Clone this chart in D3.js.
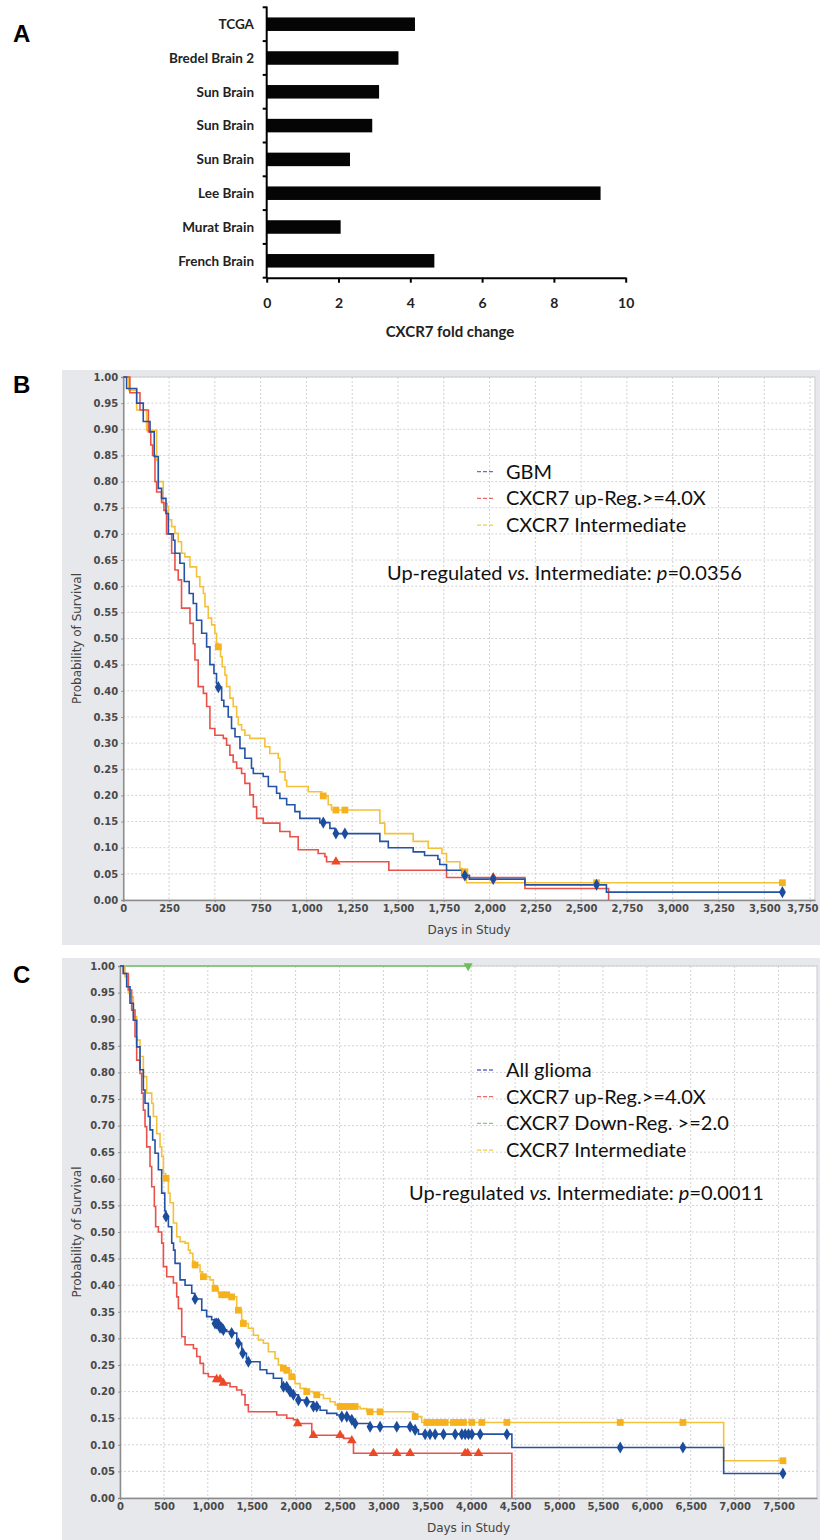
<!DOCTYPE html>
<html>
<head>
<meta charset="utf-8">
<title>CXCR7 fold change and survival</title>
<script src="https://d3js.org/d3.v7.min.js"></script>
<style>
  body { margin: 0; background: #fff; }
  svg { display: block; }
  .panel-label { font-family: "Liberation Sans", Arial, sans-serif; font-weight: bold; font-size: 24px; fill: #000; }
  .bar-label { font-family: Lato, sans-serif; font-weight: bold; font-size: 13.5px; fill: #222; }
  .bar-tick { font-family: Lato, sans-serif; font-weight: bold; font-size: 14px; fill: #222; }
  .bar-title { font-family: Lato, sans-serif; font-weight: bold; font-size: 15px; fill: #222; }
  .km-tick { font-family: "DejaVu Sans", sans-serif; font-weight: bold; font-size: 10px; fill: #4a4a4a; }
  .km-title { font-family: "DejaVu Sans", sans-serif; font-size: 12px; fill: #444; }
  .km-legend { font-family: Lato, sans-serif; font-size: 20px; fill: #111; }
</style>
</head>
<body>
<svg id="fig" width="821" height="1540"></svg>
<script>
// ---------- Panel A data ----------
const aCategories = ["TCGA", "Bredel Brain 2", "Sun Brain", "Sun Brain", "Sun Brain", "Lee Brain", "Murat Brain", "French Brain"];
const aFoldChange = [4.13, 3.67, 3.13, 2.94, 2.32, 9.30, 2.06, 4.67];
const aTicks = [0, 2, 4, 6, 8, 10];

// ---------- Panel B data (GBM) ----------
const bDayTicks = [0, 250, 500, 750, 1000, 1250, 1500, 1750, 2000, 2250, 2500, 2750, 3000, 3250, 3500, 3750];
const survTicks = [0, 0.05, 0.10, 0.15, 0.20, 0.25, 0.30, 0.35, 0.40, 0.45, 0.50, 0.55, 0.60, 0.65, 0.70, 0.75, 0.80, 0.85, 0.90, 0.95, 1.00];

const bGbm = [[0,1],[18,0.978],[73,0.95],[109,0.915],[146,0.895],[169,0.848],[191,0.787],[209,0.768],[233,0.739],[246,0.70],[273,0.688],[282,0.663],[309,0.644],[333,0.609],[360,0.586],[382,0.567],[400,0.535],[428,0.510],[455,0.484],[473,0.45],[495,0.433],[509,0.414],[517,0.407],[537,0.382],[549,0.370],[573,0.350],[591,0.328],[610,0.312],[637,0.290],[664,0.271],[700,0.252],[710,0.242],[764,0.236],[792,0.217],[837,0.204],[855,0.194],[892,0.182],[937,0.169],[964,0.156],[1073,0.148],[1128,0.137],[1155,0.127],[1401,0.112],[1447,0.10],[1583,0.092],[1645,0.085],[1718,0.078],[1728,0.068],[1765,0.057],[1850,0.047],[1890,0.040],[2193,0.029],[2638,0.015],[3599,0.015]];
const bUp = [[0,1],[36,0.97],[91,0.937],[137,0.895],[150,0.87],[160,0.85],[173,0.80],[182,0.78],[209,0.76],[222,0.745],[236,0.70],[264,0.663],[282,0.631],[300,0.612],[318,0.558],[364,0.529],[382,0.49],[391,0.459],[409,0.408],[437,0.395],[455,0.370],[473,0.328],[500,0.315],[546,0.309],[564,0.296],[582,0.277],[600,0.264],[619,0.252],[646,0.242],[664,0.223],[691,0.201],[710,0.178],[728,0.156],[764,0.147],[855,0.131],[910,0.121],[955,0.096],[1064,0.089],[1101,0.083],[1110,0.073],[1450,0.057],[1765,0.043],[2193,0.022],[2650,0]];
const bMid = [[0,1],[30,0.975],[73,0.937],[127,0.898],[182,0.841],[191,0.80],[218,0.758],[240,0.752],[246,0.727],[264,0.714],[282,0.701],[300,0.685],[318,0.663],[336,0.656],[364,0.637],[400,0.618],[418,0.599],[437,0.586],[446,0.561],[464,0.539],[482,0.526],[500,0.510],[509,0.491],[517,0.484],[531,0.465],[540,0.446],[555,0.430],[564,0.408],[582,0.386],[600,0.370],[619,0.350],[628,0.335],[646,0.325],[664,0.315],[691,0.309],[773,0.293],[800,0.280],[846,0.271],[855,0.245],[883,0.229],[892,0.217],[1010,0.207],[1083,0.199],[1119,0.182],[1137,0.172],[1401,0.147],[1428,0.127],[1583,0.112],[1665,0.099],[1740,0.089],[1765,0.073],[1838,0.06],[1850,0.054],[1874,0.033],[3599,0.033]];
const bGbmCensor = [519, 1092, 1161, 1210, 1865, 2020, 2584, 3599];
const bUpCensor = [1161, 2020];
const bMidCensor = [519, 1092, 1161, 1210, 1865, 2584, 3599];

// ---------- Panel C data (all glioma) ----------
const cDayTicks = [0, 500, 1000, 1500, 2000, 2500, 3000, 3500, 4000, 4500, 5000, 5500, 6000, 6500, 7000, 7500];

const cAll = [[0,1],[38,0.986],[76,0.961],[114,0.93],[152,0.898],[190,0.848],[228,0.805],[266,0.767],[285,0.742],[323,0.717],[342,0.692],[372,0.673],[399,0.648],[437,0.617],[475,0.573],[510,0.54],[520,0.529],[551,0.51],[589,0.479],[610,0.466],[627,0.441],[684,0.41],[741,0.40],[817,0.385],[850,0.374],[931,0.353],[987,0.341],[1044,0.335],[1080,0.328],[1130,0.32],[1177,0.316],[1215,0.313],[1265,0.31],[1330,0.291],[1386,0.272],[1440,0.262],[1462,0.256],[1595,0.241],[1671,0.234],[1747,0.225],[1842,0.212],[1861,0.209],[1920,0.2],[1975,0.194],[2032,0.184],[2127,0.181],[2203,0.172],[2279,0.165],[2355,0.159],[2469,0.156],[2526,0.153],[2620,0.147],[2678,0.14],[2848,0.134],[3342,0.128],[3399,0.12],[4463,0.095],[6875,0.046],[7550,0.046]];
const cUp = [[0,1],[38,0.986],[95,0.955],[133,0.917],[171,0.867],[190,0.823],[228,0.798],[247,0.761],[266,0.729],[285,0.698],[304,0.66],[342,0.623],[361,0.585],[391,0.548],[406,0.51],[437,0.50],[475,0.479],[494,0.435],[532,0.416],[608,0.404],[646,0.378],[665,0.356],[703,0.303],[741,0.288],[836,0.281],[874,0.266],[912,0.253],[950,0.234],[1006,0.228],[1080,0.223],[1158,0.216],[1253,0.209],[1329,0.203],[1386,0.194],[1424,0.175],[1462,0.162],[1785,0.156],[1899,0.15],[1975,0.147],[2010,0.14],[2184,0.118],[2545,0.112],[2630,0.108],[2659,0.084],[4463,0]];
const cDown = [[0,1],[3965,1]];
const cMid = [[0,1],[57,0.98],[95,0.949],[114,0.942],[152,0.905],[190,0.861],[228,0.83],[266,0.792],[304,0.761],[361,0.742],[380,0.717],[418,0.685],[456,0.66],[475,0.642],[494,0.61],[520,0.601],[551,0.573],[570,0.555],[608,0.517],[646,0.491],[684,0.482],[741,0.479],[779,0.466],[798,0.46],[830,0.445],[850,0.438],[912,0.425],[940,0.416],[1025,0.41],[1063,0.40],[1078,0.394],[1120,0.385],[1150,0.382],[1260,0.378],[1329,0.356],[1345,0.353],[1386,0.335],[1400,0.328],[1462,0.319],[1519,0.306],[1576,0.297],[1633,0.291],[1690,0.275],[1766,0.262],[1804,0.25],[1850,0.244],[1890,0.24],[1950,0.228],[1994,0.215],[2051,0.206],[2120,0.2],[2203,0.197],[2235,0.194],[2317,0.187],[2393,0.181],[2450,0.175],[2500,0.172],[2734,0.168],[2810,0.162],[3342,0.159],[3361,0.153],[3437,0.142],[6875,0.07],[7550,0.07]];
const cAllCensor = [524, 855, 1082, 1101, 1120, 1139, 1158, 1177, 1272, 1348, 1398, 1462, 1861, 1899, 1937, 1975, 2032, 2127, 2203, 2241, 2526, 2583, 2640, 2678, 2848, 2962, 3152, 3304, 3361, 3475, 3530, 3589, 3684, 3817, 3893, 3931, 3969, 4007, 4102, 4406, 5697, 6411, 7550];
const cUpCensor = [1100, 1140, 1177, 2024, 2203, 2507, 2640, 2886, 3152, 3304, 3931, 3960, 4083];
const cDownCensor = [3965];
const cMidCensor = [524, 855, 950, 1082, 1158, 1215, 1272, 1348, 1405, 1861, 1899, 1956, 2127, 2241, 2507, 2545, 2583, 2640, 2678, 2848, 2962, 3361, 3494, 3530, 3589, 3646, 3703, 3798, 3855, 3912, 4007, 4121, 4406, 5697, 6411, 7550];

const svg = d3.select('#fig');

// ================= Panel A: horizontal bars =================
svg.append('text').attr('class', 'panel-label').attr('x', 13).attr('y', 42).text('A');

const ax = d3.scaleLinear().domain([0, 10]).range([266.7, 625.7]);
const ay = d3.scaleBand().domain(d3.range(aCategories.length)).range([7.3, 277.7])
    .paddingInner(0.6).paddingOuter(0.3);

const aG = svg.append('g');
aG.selectAll('rect.bar')
    .data(aFoldChange)
    .join('rect')
    .attr('class', 'bar')
    .attr('x', ax(0))
    .attr('y', (d, i) => ay(i))
    .attr('width', d => ax(d) - ax(0))
    .attr('height', ay.bandwidth())
    .attr('fill', '#050505');

aG.selectAll('text.bar-label')
    .data(aCategories)
    .join('text')
    .attr('class', 'bar-label')
    .attr('x', 254)
    .attr('y', (d, i) => ay(i) + ay.bandwidth() / 2)
    .attr('dy', '0.35em')
    .attr('text-anchor', 'end')
    .text(d => d);

// category axis with ticks at band boundaries
const aYAxis = aG.append('g');
aYAxis.append('line')
    .attr('x1', ax(0)).attr('x2', ax(0))
    .attr('y1', 6.5).attr('y2', 278)
    .attr('stroke', '#000').attr('stroke-width', 2);
aYAxis.selectAll('line.btick')
    .data(d3.range(aCategories.length + 1))
    .join('line')
    .attr('class', 'btick')
    .attr('x1', ax(0) - 4).attr('x2', ax(0))
    .attr('y1', i => 7.3 + i * ay.step()).attr('y2', i => 7.3 + i * ay.step())
    .attr('stroke', '#000').attr('stroke-width', 2);

const aXAxis = aG.append('g').attr('transform', 'translate(0,277.7)')
    .call(d3.axisBottom(ax).tickValues(aTicks).tickSize(5).tickPadding(15).tickSizeOuter(0));
aXAxis.select('.domain').attr('stroke', '#000').attr('stroke-width', 2);
aXAxis.selectAll('.tick line').attr('stroke', '#000').attr('stroke-width', 2);
aXAxis.selectAll('.tick text').attr('class', 'bar-tick').attr('fill', null);

aG.append('text').attr('class', 'bar-title')
    .attr('x', 450).attr('y', 337).attr('text-anchor', 'middle')
    .text('CXCR7 fold change');

// ================= Kaplan-Meier panels =================
const colors = { blue: '#2452a4', red: '#e8524a', yellow: '#f4c13a', green: '#72c062' };
const markColors = { blue: '#1c4c9c', red: '#ec4a26', yellow: '#f6b21e', green: '#6cbe5c' };
const legendColors = { blue: '#6a6ad0', red: '#e86a6a', yellow: '#f2d040', green: '#88c888' };

function survAt(curve, day) {
  let s = 1;
  for (const [d, v] of curve) { if (d <= day) s = v; }
  return s;
}

function drawKM(opt) {
  const g = svg.append('g');

  svg.append('text').attr('class', 'panel-label').attr('x', 13).attr('y', opt.labelY).text(opt.label);

  g.append('rect')
      .attr('x', 62).attr('y', opt.panelTop).attr('width', 758).attr('height', opt.panelBottom - opt.panelTop)
      .attr('fill', '#e6e8eb');

  const x = d3.scaleLinear().domain([0, opt.xMax]).range([opt.left, opt.right]);
  const y = d3.scaleLinear().domain([0, 1]).range([opt.bottom, opt.top]);

  g.append('rect')
      .attr('x', opt.left).attr('y', opt.top)
      .attr('width', opt.right - opt.left).attr('height', opt.bottom - opt.top)
      .attr('fill', '#fff').attr('stroke', '#c9cbce');

  // dotted grid
  g.append('g').selectAll('line')
      .data(opt.xTicks.slice(1))
      .join('line')
      .attr('x1', d => x(d)).attr('x2', d => x(d))
      .attr('y1', opt.top).attr('y2', opt.bottom)
      .attr('stroke', '#d2d2d2').attr('stroke-dasharray', '2,2');
  g.append('g').selectAll('line')
      .data(survTicks.slice(1))
      .join('line')
      .attr('x1', opt.left).attr('x2', opt.right)
      .attr('y1', d => y(d)).attr('y2', d => y(d))
      .attr('stroke', '#d2d2d2').attr('stroke-dasharray', '2,2');

  const yAxis = g.append('g').attr('transform', `translate(${opt.left},0)`)
      .call(d3.axisLeft(y).tickValues(survTicks).tickFormat(d3.format('.2f')).tickSize(2).tickPadding(3));
  const xAxis = g.append('g').attr('transform', `translate(0,${opt.bottom})`)
      .call(d3.axisBottom(x).tickValues(opt.xTicks).tickFormat(d3.format(',')).tickSize(2).tickPadding(3).tickSizeOuter(0));
  [yAxis, xAxis].forEach(a => {
    a.select('.domain').attr('stroke', '#8c8c8c').attr('stroke-width', 1.5);
    a.selectAll('.tick line').attr('stroke', '#8c8c8c');
    a.selectAll('.tick text').attr('class', 'km-tick').attr('fill', null);
  });
  // keep the last day label inside the page edge
  xAxis.selectAll('.tick text').filter(d => x(d) > 800).attr('text-anchor', 'end').attr('dx', 8);

  g.append('text').attr('class', 'km-title')
      .attr('transform', `translate(81,${(opt.top + opt.bottom) / 2}) rotate(-90)`)
      .attr('text-anchor', 'middle')
      .text('Probability of Survival');
  g.append('text').attr('class', 'km-title')
      .attr('x', (opt.left + opt.right) / 2).attr('y', opt.bottom + 34)
      .attr('text-anchor', 'middle')
      .text('Days in Study');

  const line = d3.line().x(d => x(d[0])).y(d => y(d[1])).curve(d3.curveStepAfter);
  const shapes = { blue: d3.symbolDiamond, red: d3.symbolTriangle, yellow: d3.symbolSquare, green: d3.symbolTriangle };
  const sizes = { blue: 42, red: 40, yellow: 46, green: 36 };

  opt.series.forEach(s => {
    g.append('path')
        .attr('d', line(s.curve))
        .attr('fill', 'none')
        .attr('stroke', colors[s.color])
        .attr('stroke-width', 1.6);
  });
  opt.series.forEach(s => {
    g.append('g').selectAll('path')
        .data(s.censor)
        .join('path')
        .attr('transform', d => `translate(${x(d)},${y(survAt(s.curve, d))})` + (s.color === 'green' ? ' rotate(180)' : ''))
        .attr('d', d3.symbol().type(shapes[s.color]).size(sizes[s.color]))
        .attr('fill', markColors[s.color]);
  });

  // legend
  const leg = g.append('g');
  opt.legend.forEach((item, i) => {
    const cy = opt.legendTop + i * 26.7;
    leg.append('line')
        .attr('x1', 477).attr('x2', 495).attr('y1', cy).attr('y2', cy)
        .attr('stroke', legendColors[item.color]).attr('stroke-width', 1.3)
        .attr('stroke-dasharray', '4,2');
    leg.append('text').attr('class', 'km-legend')
        .attr('x', 506).attr('y', cy).attr('dy', '0.35em')
        .text(item.name);
  });

  const p = g.append('text').attr('class', 'km-legend')
      .attr('x', opt.pX).attr('y', opt.pY).attr('dy', '0.35em');
  p.append('tspan').text('Up-regulated ');
  p.append('tspan').attr('font-style', 'italic').text('vs.');
  p.append('tspan').text(' Intermediate: ');
  p.append('tspan').attr('font-style', 'italic').text('p');
  p.append('tspan').text('=' + opt.pValue);
}

drawKM({
  label: 'B', labelY: 393,
  panelTop: 370, panelBottom: 945,
  left: 123.3, right: 815, top: 377, bottom: 900,
  xMax: 3777, xTicks: bDayTicks,
  series: [
    { curve: bMid, censor: bMidCensor, color: 'yellow' },
    { curve: bUp, censor: bUpCensor, color: 'red' },
    { curve: bGbm, censor: bGbmCensor, color: 'blue' }
  ],
  legend: [
    { name: 'GBM', color: 'blue' },
    { name: 'CXCR7 up-Reg.>=4.0X', color: 'red' },
    { name: 'CXCR7 Intermediate', color: 'yellow' }
  ],
  legendTop: 471.7,
  pX: 387, pY: 573.3, pValue: '0.0356'
});

drawKM({
  label: 'C', labelY: 983,
  panelTop: 958, panelBottom: 1540,
  left: 120, right: 817, top: 966, bottom: 1498,
  xMax: 7938, xTicks: cDayTicks,
  series: [
    { curve: cDown, censor: cDownCensor, color: 'green' },
    { curve: cMid, censor: cMidCensor, color: 'yellow' },
    { curve: cUp, censor: cUpCensor, color: 'red' },
    { curve: cAll, censor: cAllCensor, color: 'blue' }
  ],
  legend: [
    { name: 'All glioma', color: 'blue' },
    { name: 'CXCR7 up-Reg.>=4.0X', color: 'red' },
    { name: 'CXCR7 Down-Reg. >=2.0', color: 'green' },
    { name: 'CXCR7 Intermediate', color: 'yellow' }
  ],
  legendTop: 1070,
  pX: 409, pY: 1193.3, pValue: '0.0011'
});
</script>
</body>
</html>
